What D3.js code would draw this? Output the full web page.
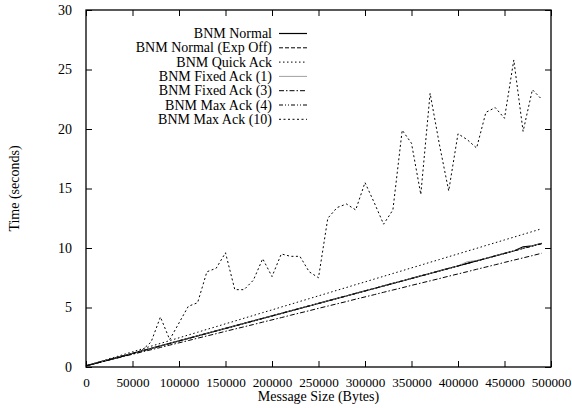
<!DOCTYPE html>
<html><head><meta charset="utf-8">
<script src="https://cdn.jsdelivr.net/npm/d3@7"></script>
<style>body{margin:0;background:#fff}svg{display:block}text{font-family:"Liberation Serif","DejaVu Serif",serif;font-size:14px;fill:#000}</style>
</head><body><svg id="c" width="572" height="408"></svg>
<script>
const sizes = [0,10000,20000,30000,40000,50000,60000,70000,80000,90000,100000,110000,120000,130000,140000,150000,160000,170000,180000,190000,200000,210000,220000,230000,240000,250000,260000,270000,280000,290000,300000,310000,320000,330000,340000,350000,360000,370000,380000,390000,400000,410000,420000,430000,440000,450000,460000,470000,480000,490000];
const bnmNormal = [0.10,0.31,0.52,0.72,0.94,1.15,1.36,1.56,1.78,1.99,2.19,2.41,2.62,2.83,3.03,3.25,3.46,3.66,3.88,4.09,4.30,4.50,4.72,4.93,5.13,5.35,5.56,5.77,5.97,6.19,6.40,6.60,6.82,7.03,7.23,7.45,7.66,7.86,8.08,8.29,8.49,8.71,8.92,9.12,9.34,9.55,9.75,10.10,10.18,10.40];
const bnmNormalExpOff = [0.10,0.30,0.51,0.73,0.93,1.14,1.35,1.57,1.77,1.98,2.20,2.40,2.61,2.82,3.04,3.24,3.45,3.67,3.87,4.08,4.29,4.51,4.71,4.92,5.14,5.34,5.55,5.76,5.98,6.18,6.39,6.61,6.81,7.02,7.24,7.44,7.65,7.87,8.07,8.28,8.50,8.70,8.91,9.13,9.33,9.54,9.76,9.96,10.17,10.38];
const bnmQuickAck = [0.10,0.34,0.57,0.81,1.04,1.28,1.51,1.75,1.98,2.22,2.45,2.69,2.92,3.16,3.39,3.63,3.86,4.10,4.33,4.57,4.80,5.04,5.27,5.51,5.74,5.98,6.21,6.45,6.68,6.92,7.15,7.39,7.62,7.86,8.09,8.33,8.56,8.80,9.03,9.27,9.50,9.74,9.97,10.21,10.44,10.68,10.91,11.15,11.38,11.62];
const bnmFixedAck1 = [0.10,0.31,0.52,0.73,0.94,1.15,1.36,1.57,1.78,1.99,2.20,2.41,2.62,2.83,3.04,3.25,3.46,3.67,3.88,4.09,4.30,4.51,4.72,4.93,5.14,5.35,5.56,5.77,5.98,6.19,6.40,6.61,6.82,7.03,7.24,7.45,7.66,7.87,8.08,8.29,8.50,8.85,8.95,9.13,9.34,9.55,9.76,9.97,10.18,10.39];
const bnmFixedAck3 = [0.10,0.29,0.49,0.68,0.87,1.07,1.26,1.45,1.64,1.84,2.03,2.22,2.42,2.61,2.80,3.00,3.19,3.38,3.57,3.77,3.96,4.15,4.35,4.54,4.73,4.93,5.12,5.31,5.50,5.70,5.89,6.08,6.28,6.47,6.66,6.86,7.05,7.24,7.43,7.63,7.82,8.01,8.21,8.40,8.59,8.79,8.98,9.17,9.36,9.56];
const bnmMaxAck4 = [0.10,0.30,0.52,0.72,0.93,1.14,1.35,1.56,1.77,1.98,2.19,2.40,2.61,2.82,3.03,3.24,3.45,3.66,3.87,4.08,4.29,4.50,4.71,4.92,5.13,5.34,5.55,5.76,5.97,6.18,6.39,6.60,6.81,7.02,7.23,7.44,7.65,7.86,8.07,8.28,8.49,8.70,8.91,9.12,9.33,9.54,9.75,9.96,10.17,10.35];
const bnmMaxAck10 = [0.10,0.30,0.50,0.70,0.90,1.10,1.40,2.10,4.20,2.30,3.70,5.10,5.40,8.00,8.30,9.60,6.50,6.50,7.30,9.10,7.60,9.50,9.30,9.30,8.00,7.50,12.50,13.40,13.70,13.20,15.50,13.80,12.00,13.20,19.90,18.80,14.50,23.00,18.70,14.80,19.60,19.10,18.40,21.40,21.80,20.90,25.80,19.80,23.30,22.50];
const seriesNames = ["BNM Normal","BNM Normal (Exp Off)","BNM Quick Ack","BNM Fixed Ack (1)","BNM Fixed Ack (3)","BNM Max Ack (4)","BNM Max Ack (10)"];
const xTicks = [0,50000,100000,150000,200000,250000,300000,350000,400000,450000,500000];
const yTicks = [0,5,10,15,20,25,30];

const seriesValues = [bnmNormal,bnmNormalExpOff,bnmQuickAck,bnmFixedAck1,bnmFixedAck3,bnmMaxAck4,bnmMaxAck10];
const styles = [
  {dash:null, w:1.2, c:"#000"},
  {dash:"4,2", w:1, c:"#000"},
  {dash:"1.5,2.5", w:1, c:"#000"},
  {dash:null, w:0.8, c:"#888"},
  {dash:"5,2,1.5,2", w:1, c:"#000"},
  {dash:"4,2,1,2,1,2", w:1, c:"#000"},
  {dash:"2,2.5", w:1, c:"#000"}
];

const L=86, R=551, T=10, B=367;
const svg = d3.select("#c");
const x = d3.scaleLinear().domain([0,500000]).range([L,R]);
const y = d3.scaleLinear().domain([0,30]).range([B,T]);

const ax = svg.append("g");
const xb = ax.append("g").attr("transform",`translate(0,${B})`).call(d3.axisBottom(x).tickValues(xTicks).tickSize(-6).tickPadding(11).tickFormat(d3.format("d")));
ax.append("g").attr("transform",`translate(0,${T})`).call(d3.axisTop(x).tickValues(xTicks).tickSize(-6).tickFormat(""));
ax.append("g").attr("transform",`translate(${L},0)`).call(d3.axisLeft(y).tickValues(yTicks).tickSize(-6).tickPadding(14));
ax.append("g").attr("transform",`translate(${R},0)`).call(d3.axisRight(y).tickValues(yTicks).tickSize(-6).tickFormat(""));
ax.selectAll(".domain").remove();
ax.selectAll(".tick line").attr("stroke","#000").attr("stroke-width",1);
ax.selectAll("text").style("font-family",'"Liberation Serif",serif').style("font-size","14px").attr("fill","#000");
xb.selectAll("text").style("font-size","13.2px");
svg.append("rect").attr("x",L).attr("y",T).attr("width",R-L).attr("height",B-T).attr("fill","none").attr("stroke","#000").attr("stroke-width",1.3);

const line = d3.line().x((d,i)=>x(sizes[i])).y(d=>y(d));
seriesValues.forEach((vals,k)=>{
  const s = styles[k];
  svg.append("path").datum(vals).attr("d",line).attr("fill","none")
    .attr("stroke",s.c).attr("stroke-width",s.w).attr("stroke-dasharray",s.dash);
});

const lg = svg.append("g");
seriesNames.forEach((n,k)=>{
  const cy = 33.5 + k*14.3;
  lg.append("text").attr("x",272).attr("y",cy+4.5).attr("text-anchor","end").text(n);
  const s = styles[k];
  lg.append("line").attr("x1",279).attr("x2",307).attr("y1",cy).attr("y2",cy)
    .attr("stroke",s.c).attr("stroke-width",s.w).attr("stroke-dasharray",s.dash);
});

svg.append("text").attr("x",(L+R)/2).attr("y",401).attr("text-anchor","middle").text("Message Size (Bytes)");
svg.append("text").attr("transform",`translate(19,${(T+B)/2}) rotate(-90)`).attr("text-anchor","middle").text("Time (seconds)");
</script></body></html>
